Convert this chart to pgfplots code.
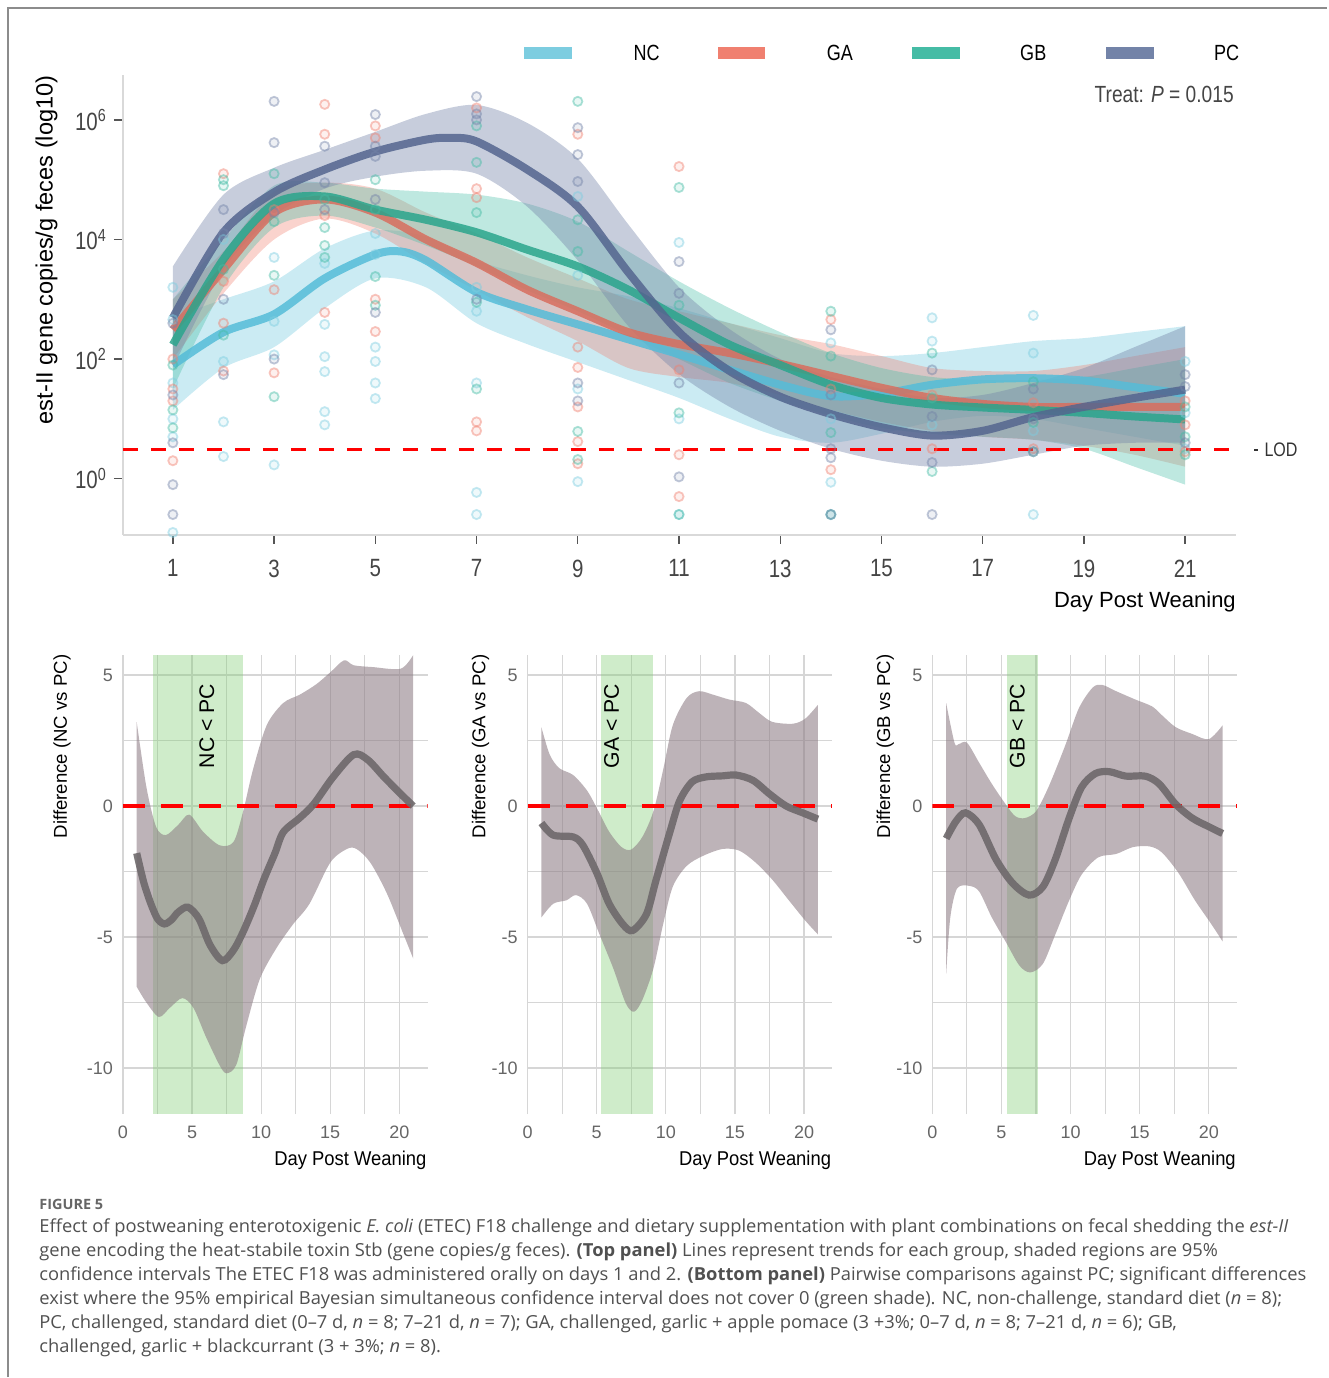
\documentclass[border=0pt]{standalone}
\usepackage{pgfplots}
\pgfplotsset{compat=1.18}
\usepgfplotslibrary{fillbetween}
\usepackage{fontspec}
\setmainfont{Liberation Sans}
\newfontfamily\cond[FakeStretch=0.82]{Liberation Sans}
\newfontfamily\semicond[FakeStretch=0.92]{Liberation Sans}
\newfontfamily\capfont[FakeStretch=1.02]{Open Sans}
\definecolor{NCc}{HTML}{7DCDE0}
\definecolor{GAc}{HTML}{F08070}
\definecolor{GBc}{HTML}{45BCA5}
\definecolor{PCc}{HTML}{7383A8}
\definecolor{NCl}{HTML}{55BCD8}
\definecolor{GAl}{HTML}{D86E5E}
\definecolor{GBl}{HTML}{2AA58C}
\definecolor{PCl}{HTML}{54658F}
\definecolor{axgray}{HTML}{D9D9D9}
\definecolor{tickc}{HTML}{555555}
\definecolor{tlab}{HTML}{454545}
\definecolor{blab}{HTML}{666666}
\definecolor{gridc}{HTML}{D6D6D6}
\definecolor{sigg}{rgb}{0.5,0.8,0.45}
\definecolor{bandc}{rgb}{0.545,0.477,0.512}
\definecolor{linec}{rgb}{0.43,0.41,0.42}
\definecolor{capc}{HTML}{505050}
\definecolor{framec}{HTML}{8C8C8C}

\pgfplotsset{
  diffpanel/.style={
    anchor=south west, scale only axis, width=152.5pt, height=230pt,
    xmin=0, xmax=22.05, ymin=-11.76, ymax=5.78,
    axis line style={draw=none},
    tick style={draw=none},
    major tick length=0pt, minor tick length=0pt,
    xtick={0,5,10,15,20}, xticklabels={0,5,10,15,20},
    ytick={-10,-5,0,5}, yticklabels={-10,-5,0,5},
    minor xtick={2.5,7.5,12.5,17.5}, minor ytick={-7.5,-2.5,2.5},
    grid=both, grid style={draw=gridc, line width=0.6pt},
    minor grid style={draw=gridc, line width=0.6pt},
    major grid style={draw=gridc, line width=0.6pt},
    ticklabel style={font=\fontsize{9}{10}\selectfont, text=blab},
    xticklabel style={yshift=-2.5pt},
    yticklabel style={xshift=-1.5pt},
    clip=true,
  },
  ptsty/.style={only marks, mark=*, mark size=2.3pt,
    mark options={draw=#1, fill=#1, draw opacity=0.45, fill opacity=0.12, line width=0.9pt}},
}

\begin{document}
\begin{tikzpicture}
\path (0,0) rectangle (664pt,-689pt);
\draw[framec, line width=1pt] (4pt,-689pt) -- (4pt,-4pt) -- (664pt,-4pt);

% ---------------- TOP PANEL ----------------
\begin{axis}[
  at={(61.5pt,-267.5pt)}, anchor=south west,
  scale only axis, width=557pt, height=230pt,
  xmin=0.013, xmax=22.007, ymin=-0.936, ymax=6.752,
  axis x line*=bottom, axis y line*=left,
  axis line style={-, draw=axgray, line width=1pt},
  xtick={1,3,5,7,9,11,13,15,17,19,21},
  xticklabels={1,3,5,7,9,11,13,15,17,19,21},
  ytick={0,2,4,6},
  yticklabels={10\textsuperscript{0},10\textsuperscript{2},10\textsuperscript{4},10\textsuperscript{6}},
  tick align=outside, major tick length=4.5pt,
  tick style={draw=tickc, line width=0.7pt},
  ticklabel style={font=\cond\fontsize{12.5}{14}\selectfont, text=tlab},
  xticklabel style={yshift=-4.5pt},
  clip=true,
]
% points
\addplot[ptsty=NCc] coordinates {
(1,3.2)(1,2.66)(1,1.6)(1,1.0)(1,0.7)(1,-0.9)
(2,4.0)(2,1.96)(2,0.95)(2,0.37)
(3,3.7)(3,2.63)(3,2.07)(3,0.23)
(4,3.6)(4,2.58)(4,2.04)(4,1.79)(4,1.12)(4,0.9)
(5,4.1)(5,3.75)(5,2.2)(5,1.96)(5,1.6)(5,1.34)
(7,3.2)(7,2.8)(7,1.6)(7,-0.23)(7,-0.6)
(9,4.72)(9,3.4)(9,1.5)(9,-0.05)
(11,3.95)(11,1.0)(11,-0.6)
(14,2.27)(14,1.0)(14,-0.06)(14,-0.6)
(16,2.69)(16,2.3)(16,0.9)
(18,2.73)(18,2.1)(18,0.8)(18,-0.6)
(21,1.96)(21,1.1)(21,0.5)};
\addplot[ptsty=GAc] coordinates {
(1,2.0)(1,1.5)(1,1.3)(1,0.3)
(2,5.1)(2,3.3)(2,2.6)(2,1.8)
(3,4.5)(3,3.16)(3,1.77)
(4,6.26)(4,5.76)(4,4.4)(4,2.78)
(5,5.9)(5,5.7)(5,3.0)(5,2.46)
(7,6.2)(7,4.85)(7,4.7)(7,0.95)(7,0.8)
(9,5.76)(9,2.2)(9,1.86)(9,1.2)(9,0.62)(9,0.25)
(11,5.22)(11,1.82)(11,0.4)(11,-0.3)
(14,2.66)(14,1.5)(14,0.15)
(16,1.4)(16,0.5)
(18,1.27)(18,0.5)
(21,1.3)(21,0.9)(21,0.45)};
\addplot[ptsty=GBc] coordinates {
(1,1.9)(1,1.15)(1,0.85)(1,-0.94)
(2,5.0)(2,4.9)(2,3.5)(2,2.4)
(3,5.1)(3,4.3)(3,3.4)(3,1.37)
(4,4.67)(4,4.2)(4,3.9)(4,3.7)
(5,5.0)(5,4.5)(5,3.38)(5,2.9)
(7,5.9)(7,5.29)(7,4.45)(7,2.95)(7,1.5)
(9,6.31)(9,4.33)(9,3.8)(9,0.79)(9,0.32)
(11,4.87)(11,2.9)(11,1.1)(11,-0.6)
(14,2.8)(14,2.05)(14,0.77)(14,-0.6)
(16,2.1)(16,1.35)(16,0.12)
(18,1.62)(18,0.94)(18,0.45)
(21,1.2)(21,0.7)(21,0.4)};
\addplot[ptsty=PCc] coordinates {
(1,2.6)(1,1.4)(1,0.6)(1,-0.1)(1,-0.6)
(2,4.5)(2,4.1)(2,3.0)(2,1.74)
(3,6.31)(3,5.62)(3,4.45)(3,2.0)
(4,5.56)(4,4.95)(4,4.5)
(5,6.09)(5,5.56)(5,5.39)(5,4.67)(5,2.78)
(7,6.39)(7,6.1)(7,6.0)(7,3.0)
(9,5.87)(9,5.42)(9,4.97)(9,1.6)(9,1.3)
(11,3.63)(11,3.1)(11,1.6)(11,0.03)
(14,2.49)(14,1.4)(14,0.5)(14,0.35)(14,-0.6)
(16,1.82)(16,1.04)(16,0.27)(16,-0.6)
(18,1.5)(18,1.0)(18,0.45)
(21,1.74)(21,1.54)(21,0.6)};
% bands
\addplot[name path=ncu, draw=none, smooth] coordinates {(1,2.7)(2,3.0)(3,3.3)(4,3.85)(5,4.15)(6,4.05)(7,3.65)(8,3.4)(9,3.2)(10,3.05)(11,2.85)(12,2.6)(13,2.35)(14,2.1)(15,2.05)(16,2.1)(17,2.2)(18,2.3)(19,2.35)(20,2.45)(21,2.55)};
\addplot[name path=ncl, draw=none, smooth] coordinates {(1,1.15)(2,1.85)(3,2.2)(4,2.85)(5,3.35)(6,3.2)(7,2.6)(8,2.25)(9,1.95)(10,1.65)(11,1.35)(12,1.0)(13,0.7)(14,0.6)(15,0.75)(16,0.95)(17,1.05)(18,1.0)(19,0.85)(20,0.7)(21,0.55)};
\addplot[fill=NCc, fill opacity=0.4, draw=none] fill between[of=ncu and ncl];
\addplot[name path=gau, draw=none, smooth] coordinates {(1,3.0)(2,3.8)(3,4.8)(4,4.95)(5,4.85)(6,4.45)(7,4.1)(8,3.7)(9,3.35)(10,3.0)(11,2.8)(12,2.6)(13,2.4)(14,2.25)(15,2.05)(16,1.85)(17,1.8)(18,1.8)(19,1.9)(20,2.05)(21,2.2)};
\addplot[name path=gal, draw=none, smooth] coordinates {(1,2.0)(2,3.1)(3,4.0)(4,4.35)(5,4.1)(6,3.6)(7,3.15)(8,2.7)(9,2.3)(10,1.85)(11,1.7)(12,1.6)(13,1.4)(14,1.15)(15,0.95)(16,0.8)(17,0.7)(18,0.65)(19,0.55)(20,0.4)(21,0.2)};
\addplot[fill=GAc, fill opacity=0.35, draw=none] fill between[of=gau and gal];
\addplot[name path=gbu, draw=none, smooth] coordinates {(1,3.0)(2,4.0)(3,4.9)(4,4.95)(5,4.85)(6,4.8)(7,4.75)(8,4.6)(9,4.3)(10,3.8)(11,3.3)(12,2.85)(13,2.45)(14,2.1)(15,1.85)(16,1.7)(17,1.65)(18,1.65)(19,1.7)(20,1.85)(21,2.0)};
\addplot[name path=gbl, draw=none, smooth] coordinates {(1,1.5)(2,3.2)(3,4.2)(4,4.4)(5,4.2)(6,3.9)(7,3.55)(8,3.15)(9,2.8)(10,2.4)(11,2.0)(12,1.6)(13,1.3)(14,1.05)(15,0.85)(16,0.75)(17,0.7)(18,0.65)(19,0.5)(20,0.2)(21,-0.1)};
\addplot[fill=GBc, fill opacity=0.35, draw=none] fill between[of=gbu and gbl];
\addplot[name path=pcu, draw=none, smooth] coordinates {(1,3.55)(2,4.75)(3,5.2)(4,5.5)(5,5.8)(6,6.1)(7,6.25)(8,5.95)(9,5.35)(10,4.25)(11,3.2)(12,2.5)(13,2.0)(14,1.7)(15,1.5)(16,1.35)(17,1.4)(18,1.6)(19,1.85)(20,2.2)(21,2.55)};
\addplot[name path=pcl, draw=none, smooth] coordinates {(1,1.85)(2,3.5)(3,4.4)(4,4.85)(5,5.05)(6,5.15)(7,5.1)(8,4.55)(9,3.65)(10,2.55)(11,1.75)(12,1.2)(13,0.8)(14,0.5)(15,0.3)(16,0.2)(17,0.25)(18,0.4)(19,0.55)(20,0.6)(21,0.6)};
\addplot[fill=PCc, fill opacity=0.4, draw=none] fill between[of=pcu and pcl];
% trend lines
\addplot[NCl, line width=4pt, opacity=0.85, smooth] coordinates {(1,1.9)(2,2.45)(3,2.75)(4,3.35)(5,3.75)(5.5,3.8)(6,3.65)(7,3.12)(8,2.83)(9,2.58)(10,2.33)(11,2.08)(12,1.82)(13,1.57)(14,1.38)(15,1.42)(16,1.57)(17,1.66)(18,1.68)(19,1.64)(20,1.53)(21,1.42)};
\addplot[GAl, line width=4pt, opacity=0.85, smooth] coordinates {(1,2.49)(2,3.5)(3,4.45)(4,4.67)(5,4.45)(6,4.0)(7,3.61)(8,3.16)(9,2.8)(10,2.45)(11,2.25)(12,2.1)(13,1.92)(14,1.72)(15,1.52)(16,1.35)(17,1.25)(18,1.2)(19,1.2)(20,1.2)(21,1.2)};
\addplot[GBl, line width=4pt, opacity=0.85, smooth] coordinates {(1,2.24)(2,3.67)(3,4.6)(4,4.72)(5,4.5)(6,4.33)(7,4.12)(8,3.83)(9,3.55)(10,3.16)(11,2.69)(12,2.24)(13,1.9)(14,1.57)(15,1.35)(16,1.24)(17,1.19)(18,1.15)(19,1.1)(20,1.04)(21,0.99)};
\addplot[PCl, line width=4pt, opacity=0.85, smooth] coordinates {(1,2.69)(2,4.12)(3,4.79)(4,5.17)(5,5.47)(6,5.67)(6.5,5.7)(7,5.64)(8,5.17)(9,4.55)(10,3.45)(11,2.45)(12,1.8)(13,1.37)(14,1.08)(15,0.86)(16,0.72)(17,0.8)(18,1.03)(19,1.2)(20,1.35)(21,1.49)};
% LOD
\addplot[red, line width=1.75pt, dash pattern=on 7.5pt off 6.5pt] coordinates {(0.013,0.485) (22.007,0.485)};
\end{axis}

% top panel texts
\node[rotate=90, font=\fontsize{11.8}{14}\selectfont] at (23.25pt,-125pt) {est-II gene copies/g feces (log10)};
\node[anchor=east, font=\fontsize{11}{13}\selectfont, inner sep=0pt] at (618.5pt,-301pt) {Day Post Weaning};
\node[anchor=east, font=\cond\fontsize{11.7}{13}\selectfont, text=tlab, inner sep=0pt] at (617.5pt,-47.5pt) {Treat: \textit{P} = 0.015};
\draw[black!80, line width=1pt] (627.5pt,-225pt) -- (629.5pt,-225pt);
\node[anchor=west, font=\cond\fontsize{9.8}{12}\selectfont, text=black!80, inner sep=0pt] at (632.5pt,-225pt) {LOD};
% legend
\fill[NCc] (262pt,-23.5pt) rectangle (286pt,-29.5pt);
\fill[GAc] (359.5pt,-23.5pt) rectangle (383pt,-29.5pt);
\fill[GBc] (456.5pt,-23.5pt) rectangle (480.5pt,-29.5pt);
\fill[PCc] (553.5pt,-23.5pt) rectangle (577.5pt,-29.5pt);
\node[font=\cond\fontsize{11}{13}\selectfont] at (323.5pt,-26.5pt) {NC};
\node[font=\cond\fontsize{11}{13}\selectfont] at (420.25pt,-26.5pt) {GA};
\node[font=\cond\fontsize{11}{13}\selectfont] at (517pt,-26.5pt) {GB};
\node[font=\cond\fontsize{11}{13}\selectfont] at (613.75pt,-26.5pt) {PC};

% ---------------- BOTTOM PANEL 1 ----------------
\begin{axis}[diffpanel, at={(61.5pt,-557.5pt)}]
\addplot[name path=g1t, draw=none] coordinates {(2.2,5.78) (8.67,5.78)};
\addplot[name path=g1b, draw=none] coordinates {(2.2,-11.76) (8.67,-11.76)};
\addplot[fill=sigg, fill opacity=0.38, draw=none] fill between[of=g1t and g1b];
\addplot[name path=u1, draw=none, smooth] coordinates {(1,3.2)(1.7,0.72)(2.4,-0.79)(3.1,-1.11)(4.0,-0.72)(4.8,-0.33)(5.8,-0.98)(7.0,-1.5)(8.0,-1.37)(8.7,-0.2)(9.4,1.37)(10.4,3.08)(11.6,3.93)(12.8,4.25)(14.0,4.65)(15.0,5.1)(16.0,5.56)(16.7,5.37)(18.1,5.3)(20.1,5.24)(21,5.76)};
\addplot[name path=l1, draw=none, smooth] coordinates {(1,-6.9)(1.7,-7.5)(2.6,-8.05)(3.4,-7.7)(4.3,-7.33)(5.1,-7.7)(6.0,-8.8)(7.0,-9.9)(7.5,-10.2)(8.2,-9.88)(8.9,-8.44)(9.9,-6.61)(11.1,-5.43)(12.3,-4.52)(13.5,-3.73)(15.0,-2.16)(16.2,-1.64)(16.9,-1.64)(17.9,-2.16)(19.1,-3.34)(20.3,-4.9)(21,-5.82)};
\addplot[fill=bandc, fill opacity=0.57, draw=none] fill between[of=u1 and l1];
\addplot[red, line width=1.6pt, dash pattern=on 11pt off 8pt] coordinates {(0,0) (22.05,0)};
\addplot[linec, line width=3.6pt, opacity=0.9, smooth] coordinates {(1,-1.8)(1.5,-2.9)(2,-3.7)(2.5,-4.3)(3,-4.5)(3.5,-4.35)(4,-4.05)(4.7,-3.86)(5.5,-4.3)(6.3,-5.3)(7.2,-5.9)(8,-5.5)(8.7,-4.8)(9.5,-3.8)(10.2,-2.8)(11,-1.8)(11.6,-1.0)(12.8,-0.45)(13.8,0.07)(15.2,1.1)(16.7,1.96)(17.7,1.77)(18.9,1.1)(20.1,0.46)(21,0)};
\node[rotate=90, font=\fontsize{10.6}{12}\selectfont] at (axis cs:6.07,3.05) {NC < PC};
\end{axis}

% ---------------- BOTTOM PANEL 2 ----------------
\begin{axis}[diffpanel, at={(264pt,-557.5pt)}]
\addplot[name path=g2t, draw=none] coordinates {(5.29,5.78) (9.06,5.78)};
\addplot[name path=g2b, draw=none] coordinates {(5.29,-11.76) (9.06,-11.76)};
\addplot[fill=sigg, fill opacity=0.38, draw=none] fill between[of=g2t and g2b];
\addplot[name path=u2, draw=none, smooth] coordinates {(1,3.0)(1.6,1.96)(2.3,1.44)(3.3,1.18)(4.3,0.59)(5.0,-0.07)(5.9,-0.98)(6.8,-1.57)(7.5,-1.66)(8.3,-1.18)(9.1,-0.2)(9.8,1.37)(10.5,3.08)(11.5,4.12)(12.4,4.38)(13.4,4.25)(14.6,4.06)(15.8,3.93)(16.8,3.53)(17.7,3.21)(19.2,3.14)(20.1,3.34)(21.0,3.86)};
\addplot[name path=l2, draw=none, smooth] coordinates {(1,-4.25)(1.85,-3.73)(2.8,-3.6)(3.5,-3.4)(4.3,-3.73)(5.2,-4.9)(6.2,-6.2)(7.1,-7.53)(7.7,-7.85)(8.3,-7.4)(9.1,-6.2)(9.8,-4.52)(10.5,-3.08)(11.5,-2.29)(12.7,-1.9)(14.1,-1.64)(15.3,-1.7)(16.5,-2.16)(17.7,-2.81)(18.9,-3.6)(20.1,-4.38)(21,-4.9)};
\addplot[fill=bandc, fill opacity=0.57, draw=none] fill between[of=u2 and l2];
\addplot[red, line width=1.6pt, dash pattern=on 11pt off 8pt] coordinates {(0,0) (22.05,0)};
\addplot[linec, line width=3.6pt, opacity=0.9, smooth] coordinates {(1,-0.65)(1.85,-1.11)(3.3,-1.18)(4.0,-1.5)(5.0,-2.55)(5.9,-3.73)(6.9,-4.52)(7.6,-4.75)(8.6,-4.12)(9.3,-2.81)(10.3,-0.98)(11.0,0.2)(11.9,0.92)(12.9,1.11)(14.1,1.15)(15.1,1.18)(16.3,0.98)(17.5,0.46)(18.7,0)(19.9,-0.26)(21,-0.5)};
\node[rotate=90, font=\fontsize{10.6}{12}\selectfont] at (axis cs:6.07,3.05) {GA < PC};
\end{axis}

% ---------------- BOTTOM PANEL 3 ----------------
\begin{axis}[diffpanel, at={(466.5pt,-557.5pt)}]
\addplot[name path=g3t, draw=none] coordinates {(5.42,5.78) (7.65,5.78)};
\addplot[name path=g3b, draw=none] coordinates {(5.42,-11.76) (7.65,-11.76)};
\addplot[fill=sigg, fill opacity=0.38, draw=none] fill between[of=g3t and g3b];
\addplot[name path=u3, draw=none, smooth] coordinates {(1.0,3.93)(1.6,2.42)(1.9,2.36)(2.5,2.42)(3.4,1.64)(4.3,0.85)(5.3,0.07)(6.0,-0.39)(6.7,-0.46)(7.5,-0.2)(8.4,0.72)(9.6,2.29)(10.6,3.73)(11.6,4.52)(12.3,4.62)(13.3,4.38)(14.7,4.06)(15.9,3.8)(16.6,3.47)(17.6,3.01)(18.8,2.75)(20.0,2.55)(21.0,3.08)};
\addplot[name path=l3, draw=none, smooth] coordinates {(1.0,-6.41)(1.3,-4.25)(1.8,-3.14)(2.7,-3.05)(3.4,-3.27)(4.3,-4.25)(5.3,-5.17)(6.3,-6.09)(7.1,-6.35)(8.0,-6.02)(8.9,-4.9)(9.9,-3.6)(10.8,-2.62)(12.0,-1.96)(13.3,-1.83)(14.5,-1.57)(15.7,-1.54)(16.6,-1.77)(17.8,-2.55)(19.0,-3.6)(20.2,-4.52)(21.0,-5.17)};
\addplot[fill=bandc, fill opacity=0.57, draw=none] fill between[of=u3 and l3];
\addplot[red, line width=1.6pt, dash pattern=on 11pt off 8pt] coordinates {(0,0) (22.05,0)};
\addplot[linec, line width=3.6pt, opacity=0.9, smooth] coordinates {(1,-1.24)(1.7,-0.59)(2.4,-0.26)(3.4,-0.72)(4.6,-2.03)(5.8,-2.94)(7.0,-3.4)(8.0,-3.08)(8.9,-2.03)(9.9,-0.46)(10.8,0.72)(11.8,1.24)(12.8,1.31)(14.0,1.14)(15.4,1.14)(16.4,0.85)(17.6,0.07)(18.8,-0.46)(20.0,-0.79)(21.0,-1.05)};
\node[rotate=90, font=\fontsize{10.6}{12}\selectfont] at (axis cs:6.15,3.05) {GB < PC};
\end{axis}

% bottom labels
\node[rotate=90, font=\fontsize{9.3}{11}\selectfont] at (31pt,-373.5pt) {Difference (NC vs PC)};
\node[rotate=90, font=\fontsize{9.3}{11}\selectfont] at (240.5pt,-373.5pt) {Difference (GA vs PC)};
\node[rotate=90, font=\fontsize{9.3}{11}\selectfont] at (443pt,-373.5pt) {Difference (GB vs PC)};
\node[anchor=east, font=\semicond\fontsize{10}{12}\selectfont, inner sep=0pt] at (213.5pt,-580.5pt) {Day Post Weaning};
\node[anchor=east, font=\semicond\fontsize{10}{12}\selectfont, inner sep=0pt] at (416pt,-580.5pt) {Day Post Weaning};
\node[anchor=east, font=\semicond\fontsize{10}{12}\selectfont, inner sep=0pt] at (618.5pt,-580.5pt) {Day Post Weaning};

% caption
\node[anchor=base west, inner sep=0pt, font=\capfont\bfseries\fontsize{7.1}{8}\selectfont, text=black!60] at (19.5pt,-605pt) {FIGURE 5};
\begin{scope}[every node/.style={anchor=base west, inner sep=0pt, font=\capfont\fontsize{9}{10}\selectfont, text=capc}]
\node at (19.5pt,-616.5pt) {Effect of postweaning enterotoxigenic \textit{E. coli} (ETEC) F18 challenge and dietary supplementation with plant combinations on fecal shedding the \textit{est-II}};
\node at (19.5pt,-628.5pt) {gene encoding the heat-stabile toxin Stb (gene copies/g feces). \textbf{(Top panel)} Lines represent trends for each group, shaded regions are 95\%};
\node at (19.5pt,-640.5pt) {confidence intervals The ETEC F18 was administered orally on days 1 and 2. \textbf{(Bottom panel)} Pairwise comparisons against PC; significant differences};
\node at (19.5pt,-652.5pt) {exist where the 95\% empirical Bayesian simultaneous confidence interval does not cover 0 (green shade). NC, non-challenge, standard diet (\textit{n} = 8);};
\node at (19.5pt,-664.5pt) {PC, challenged, standard diet (0–7 d, \textit{n} = 8; 7–21 d, \textit{n} = 7); GA, challenged, garlic + apple pomace (3 +3\%; 0–7 d, \textit{n} = 8; 7–21 d, \textit{n} = 6); GB,};
\node at (19.5pt,-676.5pt) {challenged, garlic + blackcurrant (3 + 3\%; \textit{n} = 8).};
\end{scope}
\end{tikzpicture}
\end{document}
